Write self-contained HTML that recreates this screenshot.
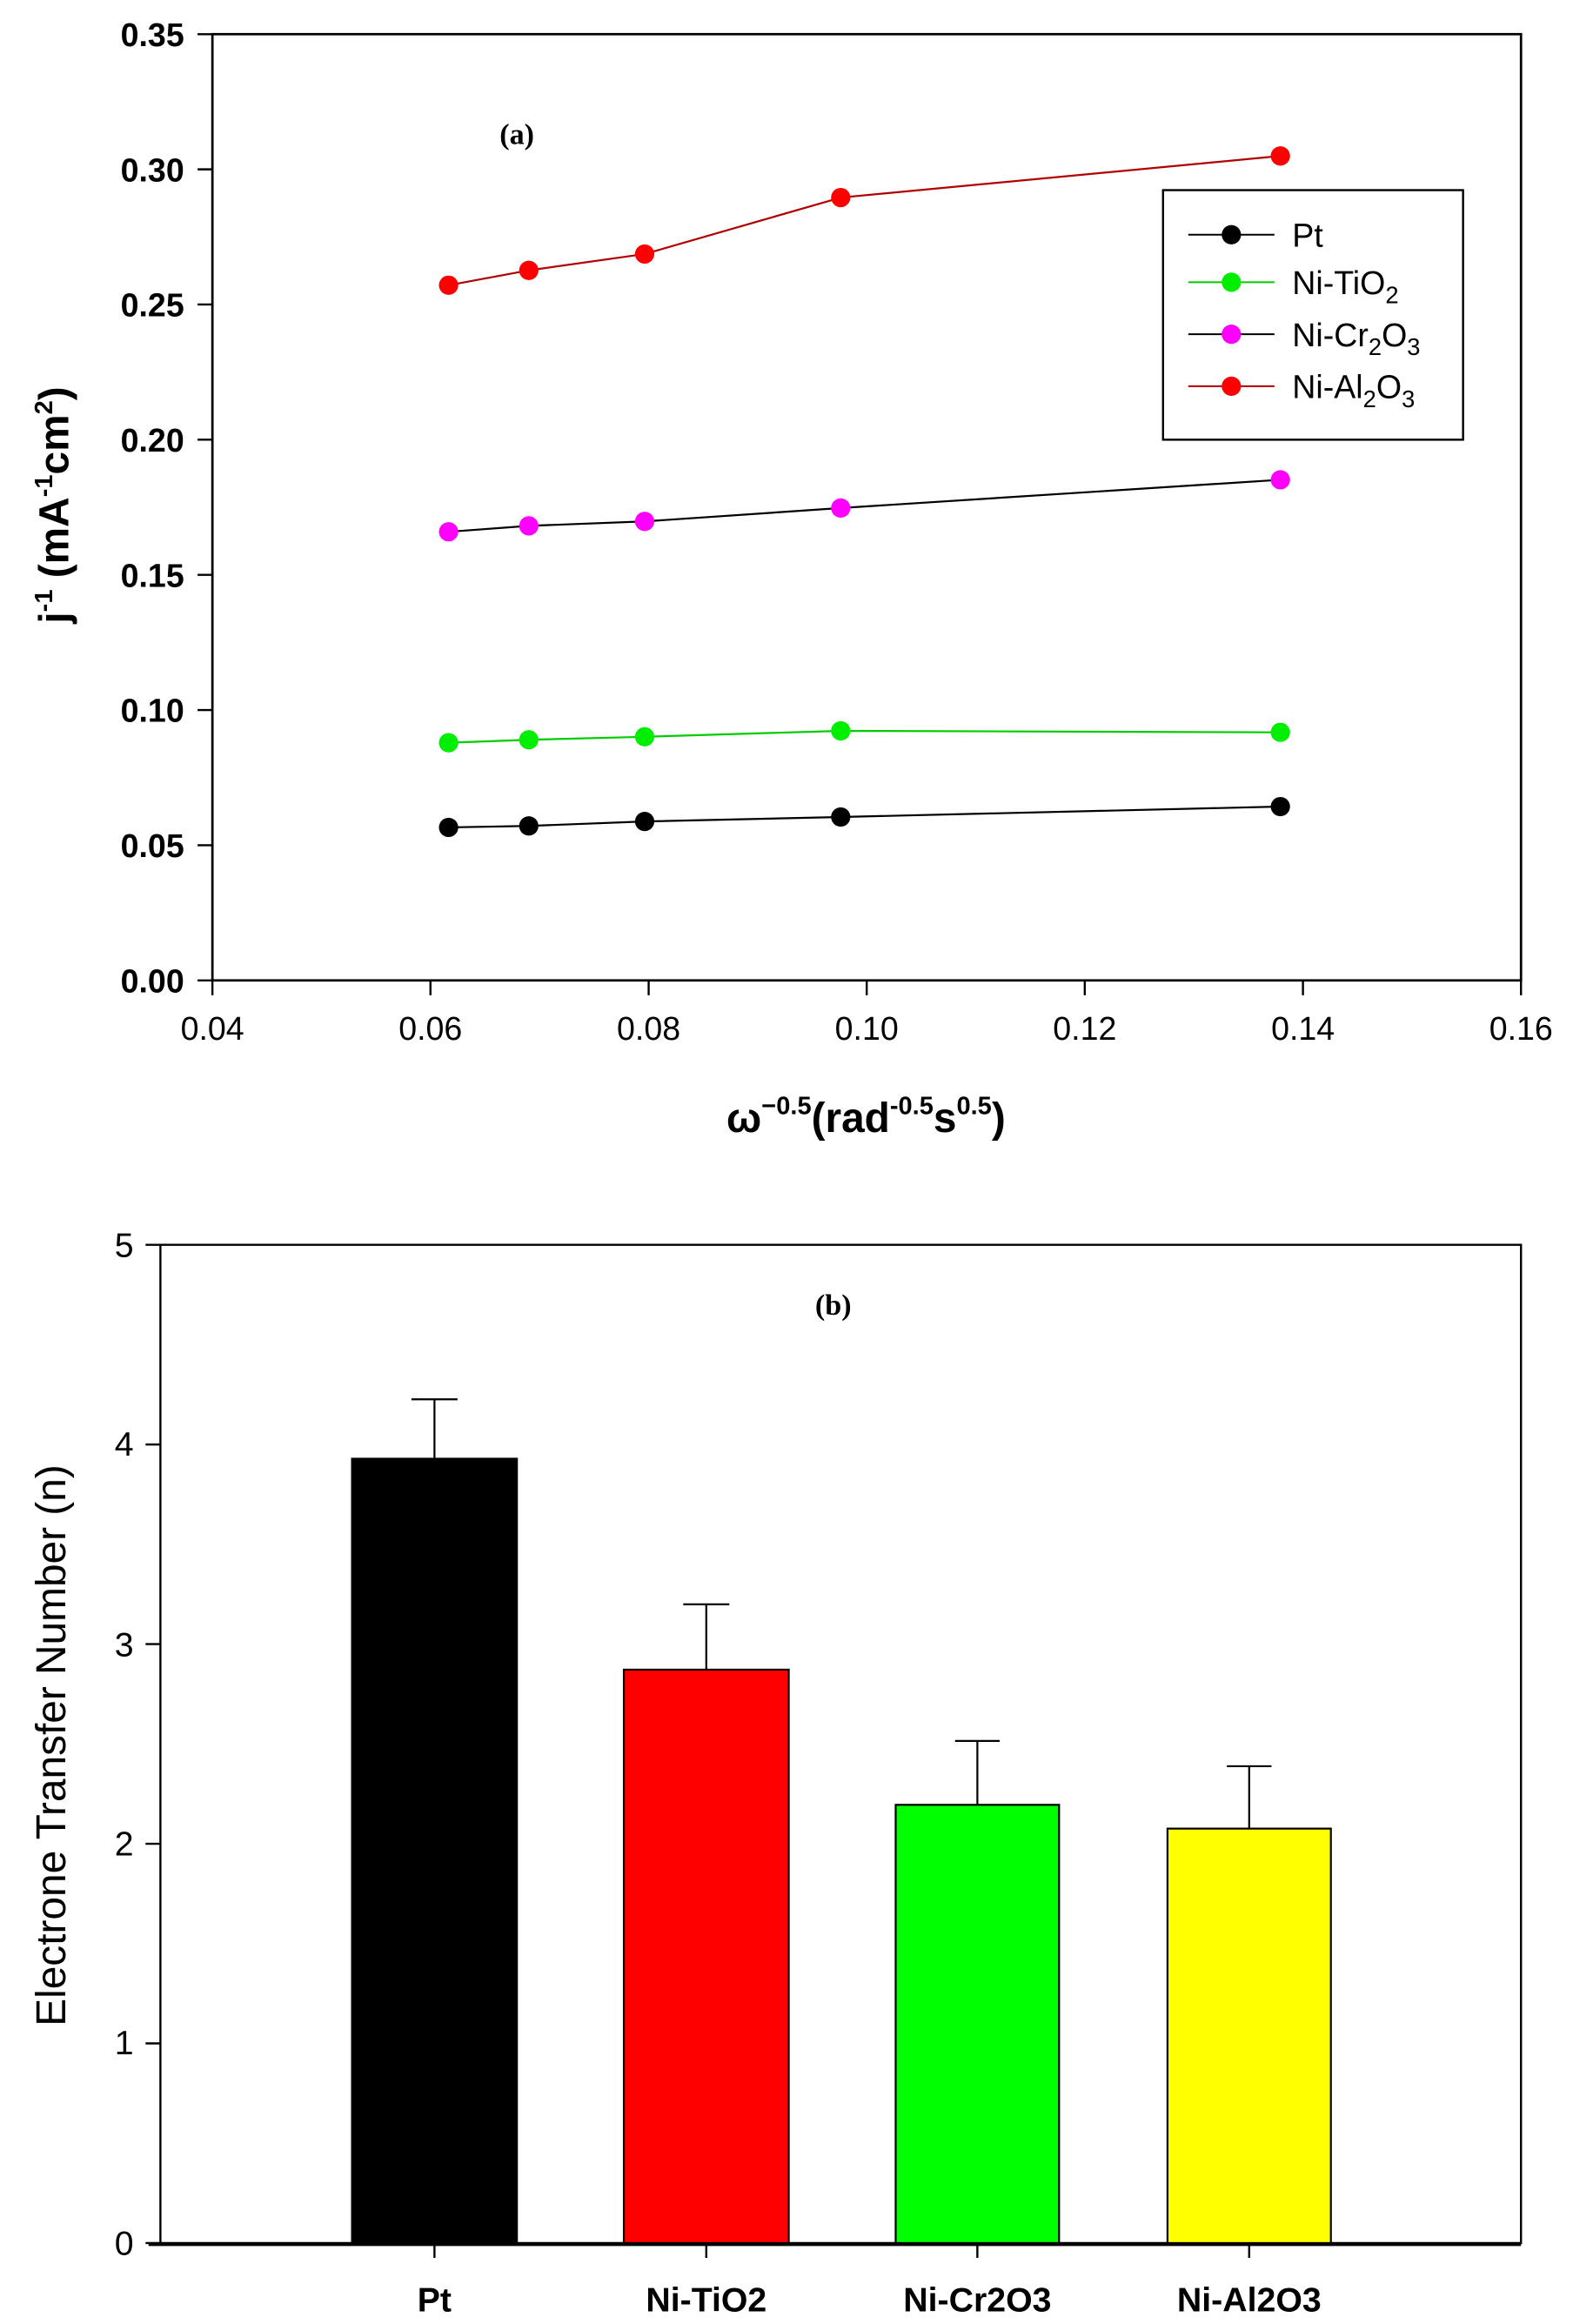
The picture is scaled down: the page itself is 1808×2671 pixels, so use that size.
<!DOCTYPE html>
<html><head><meta charset="utf-8"><style>html,body{margin:0;padding:0;background:#fff}svg{display:block}</style></head>
<body>
<svg width="1808" height="2671" viewBox="0 0 1059 1564.5" xmlns="http://www.w3.org/2000/svg" font-family="Liberation Sans, Arial, sans-serif">
<rect width="1059" height="1564.5" fill="#fff"/>
<!-- Plot (a) -->
<rect x="143" y="23" width="881" height="637" fill="none" stroke="#000" stroke-width="1.6"/>
<g stroke="#000" stroke-width="1.4">
<line x1="133" y1="23" x2="143" y2="23"/><line x1="133" y1="114" x2="143" y2="114"/><line x1="133" y1="205" x2="143" y2="205"/><line x1="133" y1="296" x2="143" y2="296"/><line x1="133" y1="387" x2="143" y2="387"/><line x1="133" y1="478" x2="143" y2="478"/><line x1="133" y1="569" x2="143" y2="569"/><line x1="133" y1="660" x2="143" y2="660"/>
<line x1="143" y1="660" x2="143" y2="670"/><line x1="289.8" y1="660" x2="289.8" y2="670"/><line x1="436.7" y1="660" x2="436.7" y2="670"/><line x1="583.5" y1="660" x2="583.5" y2="670"/><line x1="730.3" y1="660" x2="730.3" y2="670"/><line x1="877.2" y1="660" x2="877.2" y2="670"/><line x1="1024" y1="660" x2="1024" y2="670"/>
</g>
<g font-size="22" font-weight="bold" text-anchor="end">
<text x="124" y="31">0.35</text><text x="124" y="122">0.30</text><text x="124" y="213">0.25</text><text x="124" y="304">0.20</text><text x="124" y="395">0.15</text><text x="124" y="486">0.10</text><text x="124" y="577">0.05</text><text x="124" y="668">0.00</text>
</g>
<g font-size="22" text-anchor="middle">
<text x="143" y="700">0.04</text><text x="289.8" y="700">0.06</text><text x="436.7" y="700">0.08</text><text x="583.5" y="700">0.10</text><text x="730.3" y="700">0.12</text><text x="877.2" y="700">0.14</text><text x="1024" y="700">0.16</text>
</g>
<text x="348" y="97" font-family="Liberation Serif, serif" font-weight="bold" font-size="20" text-anchor="middle">(a)</text>
<text transform="translate(46,340) rotate(-90)" font-weight="bold" font-size="28" text-anchor="middle">j<tspan font-size="17" dy="-11">-1</tspan><tspan dy="11"> (mA</tspan><tspan font-size="17" dy="-11">-1</tspan><tspan dy="11">cm</tspan><tspan font-size="17" dy="-11">2</tspan><tspan dy="11">)</tspan></text>
<text x="583" y="762" font-weight="bold" font-size="28" text-anchor="middle">ω<tspan font-size="17" dy="-12">−0.5</tspan><tspan dy="12">(rad</tspan><tspan font-size="17" dy="-12">-0.5</tspan><tspan dy="12">s</tspan><tspan font-size="17" dy="-12">0.5</tspan><tspan dy="12">)</tspan></text>
<polyline points="302,192 356,182 434,171 566,133 862,105" fill="none" stroke="#b00000" stroke-width="1.3"/>
<polyline points="302,358 356,354 434,351 566,342 862,323" fill="none" stroke="#000" stroke-width="1.3"/>
<polyline points="302,500 356,498 434,496 566,492 862,493" fill="none" stroke="#00cc00" stroke-width="1.3"/>
<polyline points="302,557 356,556 434,553 566,550 862,543" fill="none" stroke="#000" stroke-width="1.3"/>
<g fill="#ff0000"><circle cx="302" cy="192" r="6.5"/><circle cx="356" cy="182" r="6.5"/><circle cx="434" cy="171" r="6.5"/><circle cx="566" cy="133" r="6.5"/><circle cx="862" cy="105" r="6.5"/></g>
<g fill="#ff00ff"><circle cx="302" cy="358" r="6.5"/><circle cx="356" cy="354" r="6.5"/><circle cx="434" cy="351" r="6.5"/><circle cx="566" cy="342" r="6.5"/><circle cx="862" cy="323" r="6.5"/></g>
<g fill="#00ee00"><circle cx="302" cy="500" r="6.5"/><circle cx="356" cy="498" r="6.5"/><circle cx="434" cy="496" r="6.5"/><circle cx="566" cy="492" r="6.5"/><circle cx="862" cy="493" r="6.5"/></g>
<g fill="#000"><circle cx="302" cy="557" r="6.5"/><circle cx="356" cy="556" r="6.5"/><circle cx="434" cy="553" r="6.5"/><circle cx="566" cy="550" r="6.5"/><circle cx="862" cy="543" r="6.5"/></g>
<!-- legend -->
<rect x="783" y="128" width="202" height="168" fill="#fff" stroke="#000" stroke-width="1.4"/>
<line x1="800" y1="158" x2="858" y2="158" stroke="#000" stroke-width="1.2"/><circle cx="829" cy="158" r="6.5" fill="#000"/>
<line x1="800" y1="190" x2="858" y2="190" stroke="#00cc00" stroke-width="1.2"/><circle cx="829" cy="190" r="6.5" fill="#00ee00"/>
<line x1="800" y1="225" x2="858" y2="225" stroke="#000" stroke-width="1.2"/><circle cx="829" cy="225" r="6.5" fill="#ff00ff"/>
<line x1="800" y1="260" x2="858" y2="260" stroke="#b00000" stroke-width="1.2"/><circle cx="829" cy="260" r="6.5" fill="#ff0000"/>
<g font-size="22">
<text x="870" y="166">Pt</text>
<text x="870" y="198">Ni-TiO<tspan font-size="16" dy="6">2</tspan></text>
<text x="870" y="233">Ni-Cr<tspan font-size="16" dy="6">2</tspan><tspan dy="-6">O</tspan><tspan font-size="16" dy="6">3</tspan></text>
<text x="870" y="268">Ni-Al<tspan font-size="16" dy="6">2</tspan><tspan dy="-6">O</tspan><tspan font-size="16" dy="6">3</tspan></text>
</g>
<!-- Plot (b) -->
<rect x="108" y="838" width="916" height="672" fill="none" stroke="#000" stroke-width="1.4"/>
<g stroke="#000" stroke-width="1.4">
<line x1="98" y1="838" x2="108" y2="838"/><line x1="98" y1="972.4" x2="108" y2="972.4"/><line x1="98" y1="1106.8" x2="108" y2="1106.8"/><line x1="98" y1="1241.2" x2="108" y2="1241.2"/><line x1="98" y1="1375.6" x2="108" y2="1375.6"/><line x1="98" y1="1510" x2="108" y2="1510"/>
<line x1="292.5" y1="1510" x2="292.5" y2="1520"/><line x1="475.5" y1="1510" x2="475.5" y2="1520"/><line x1="658" y1="1510" x2="658" y2="1520"/><line x1="841" y1="1510" x2="841" y2="1520"/>
</g>
<line x1="100" y1="1511" x2="1024" y2="1511" stroke="#000" stroke-width="2"/>
<g font-size="23" text-anchor="end">
<text x="90" y="846">5</text><text x="90" y="980">4</text><text x="90" y="1115">3</text><text x="90" y="1249">2</text><text x="90" y="1383">1</text><text x="90" y="1518">0</text>
</g>
<text x="561" y="885" font-family="Liberation Serif, serif" font-weight="bold" font-size="20" text-anchor="middle">(b)</text>
<text transform="translate(44,1175) rotate(-90)" font-size="28" text-anchor="middle">Electrone Transfer Number (n)</text>
<g stroke="#000" stroke-width="1.3">
<line x1="292.5" y1="942" x2="292.5" y2="982"/><line x1="277" y1="942" x2="308" y2="942"/>
<line x1="475.5" y1="1080" x2="475.5" y2="1124"/><line x1="460" y1="1080" x2="491" y2="1080"/>
<line x1="658" y1="1172" x2="658" y2="1215"/><line x1="643" y1="1172" x2="673" y2="1172"/>
<line x1="841" y1="1189" x2="841" y2="1231"/><line x1="826" y1="1189" x2="856" y2="1189"/>
<rect x="237" y="982" width="111" height="528" fill="#000"/>
<rect x="420" y="1124" width="111" height="386" fill="#ff0000"/>
<rect x="603" y="1215" width="110" height="295" fill="#00ff00"/>
<rect x="786" y="1231" width="110" height="279" fill="#ffff00"/>
</g>
<g font-size="23" font-weight="bold" text-anchor="middle">
<text x="292.5" y="1556">Pt</text><text x="475.5" y="1556">Ni-TiO2</text><text x="658" y="1556">Ni-Cr2O3</text><text x="841" y="1556">Ni-Al2O3</text>
</g>
</svg>
</body></html>
